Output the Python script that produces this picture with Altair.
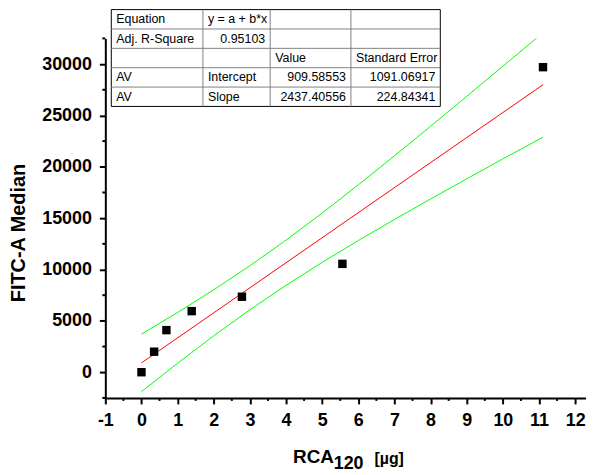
import altair as alt
import pandas as pd

# ---- data ----
rca_ug = [0, 0.35, 0.69, 1.39, 2.78, 5.56, 11.11]
fitc_median = [0, 2000, 4100, 5950, 7350, 10550, 29700]

fit_x = [0, 11.11]
fit_y = [910, 27990]

band_x = [0, 1, 2, 3, 4, 5, 6, 7, 8, 9, 10, 11.11]
band_upper = [3712, 5817, 8023, 10366, 12860, 15498, 18246, 21071, 23949, 26861, 29799, 33049]
band_lower = [-1893, 877, 3545, 6078, 8458, 10696, 12822, 14871, 16869, 18831, 20769, 22881]

x_major = list(range(-1, 13))
x_minor = [v + 0.5 for v in range(-1, 12)]
y_major = list(range(0, 30001, 5000))
y_minor = list(range(-2500, 32501, 5000))

table_rows = [
    ["Equation", "y = a + b*x", "", ""],
    ["Adj. R-Square", "0.95103", "", ""],
    ["", "", "Value", "Standard Error"],
    ["AV", "Intercept", "909.58553", "1091.06917"],
    ["AV", "Slope", "2437.40556", "224.84341"],
]

# ---- layout constants (pixels, relative to plot area) ----
W, H = 484, 362
col_edges = [6, 98.3, 166, 247.3, 337.3]
row_top, row_h = -29, 19.5
FONT = "Liberation Sans"

pts = pd.DataFrame({"x": rca_ug, "y": fitc_median})
fit = pd.DataFrame({"x": fit_x, "y": fit_y})
band = pd.DataFrame({
    "x": band_x + band_x,
    "y": band_upper + band_lower,
    "b": ["upper"] * len(band_x) + ["lower"] * len(band_x),
})

xscale = alt.Scale(domain=[-1, 12.3], nice=False, zero=False)
yscale = alt.Scale(domain=[-2500, 32500], nice=False, zero=False)

xaxis = alt.Axis(values=x_major, labelExpr="'' + datum.value", tickSize=6, labelFlush=False,
                 labelOverlap=False, labelPadding=8, title=None, grid=False)
yaxis = alt.Axis(values=y_major, labelExpr="'' + datum.value", tickSize=6, labelFlush=False,
                 labelOverlap=False, labelPadding=8, title=None, grid=False)

X = alt.X("x:Q", scale=xscale, axis=xaxis)
Y = alt.Y("y:Q", scale=yscale, axis=yaxis)

points = alt.Chart(pts).mark_square(size=72, color="black", opacity=1).encode(x=X, y=Y)
fitline = alt.Chart(fit).mark_line(color="#ff0000", strokeWidth=1, clip=True).encode(x=X, y=Y)
bands = alt.Chart(band).mark_line(color="#00ff00", strokeWidth=1, clip=True).encode(
    x=X, y=Y, detail="b:N"
)

# minor ticks
xmin = alt.Chart(pd.DataFrame({"x": x_minor})).mark_rule(color="black", strokeWidth=2).encode(
    x=X, y=alt.value(H), y2=alt.value(H + 3)
)
ymin = alt.Chart(pd.DataFrame({"y": y_minor})).mark_rule(color="black", strokeWidth=2).encode(
    y=Y, x=alt.value(0), x2=alt.value(-3)
)

# ---- axis titles ----
def label(t, size, x, y, angle=0, align="left"):
    return alt.Chart(pd.DataFrame({"t": [t]})).mark_text(
        font=FONT, fontSize=size, fontWeight="bold", align=align,
        baseline="alphabetic", color="black", angle=angle
    ).encode(text="t:N", x=alt.value(x), y=alt.value(y))

ytitle = label("FITC-A Median", 20, -81, 196, angle=270, align="center")
t1 = label("RCA", 19, 189, 428)
t2 = label("120", 18, 230, 434)
t3 = label("[µg]", 16, 271, 429)

# ---- results table ----
def is_num(s):
    try:
        float(s)
        return True
    except ValueError:
        return False

cells = []
for r, row in enumerate(table_rows):
    for c, s in enumerate(row):
        if not s:
            continue
        num = is_num(s)
        cells.append({
            "t": s,
            "px": (col_edges[c + 1] - 5) if num else (col_edges[c] + 5),
            "py": row_top + row_h * (r + 0.5),
            "right": num,
        })
cells = pd.DataFrame(cells)

box = alt.Chart(pd.DataFrame({"a": [0]})).mark_rect(
    fill="white", stroke="black", strokeWidth=1
).encode(
    x=alt.value(col_edges[0]), x2=alt.value(col_edges[-1]),
    y=alt.value(row_top), y2=alt.value(row_top + row_h * len(table_rows)),
)
hl = pd.DataFrame({"py": [row_top + row_h * i for i in range(1, len(table_rows))]})
hlines = alt.Chart(hl).mark_rule(color="#808080", strokeWidth=1).encode(
    y=alt.Y("py:Q", scale=None), x=alt.value(col_edges[0]), x2=alt.value(col_edges[-1])
)
vl = pd.DataFrame({"px": col_edges[1:-1]})
vlines = alt.Chart(vl).mark_rule(color="#808080", strokeWidth=1).encode(
    x=alt.X("px:Q", scale=None), y=alt.value(row_top), y2=alt.value(row_top + row_h * len(table_rows))
)
txt_l = alt.Chart(cells).transform_filter("!datum.right").mark_text(
    font=FONT, fontSize=12.5, align="left", baseline="middle", color="black"
).encode(x=alt.X("px:Q", scale=None), y=alt.Y("py:Q", scale=None), text="t:N")
txt_r = alt.Chart(cells).transform_filter("datum.right").mark_text(
    font=FONT, fontSize=12.5, align="right", baseline="middle", color="black"
).encode(x=alt.X("px:Q", scale=None), y=alt.Y("py:Q", scale=None), text="t:N")

chart = alt.layer(
    bands, fitline, points, xmin, ymin, ytitle, t1, t2, t3,
    box, hlines, vlines, txt_l, txt_r
).properties(
    width=W, height=H,
    autosize=alt.AutoSizeParams(type="none"),
    padding={"left": 98, "top": 29, "right": 0, "bottom": 76},
).configure_view(stroke=None).configure_axis(
    labelFont=FONT, labelFontSize=18, labelFontWeight="bold", labelColor="black",
    domainColor="black", domainWidth=2, tickColor="black", tickWidth=2,
)

chart.save("out.html", embed_options={"renderer": "svg", "actions": False})
